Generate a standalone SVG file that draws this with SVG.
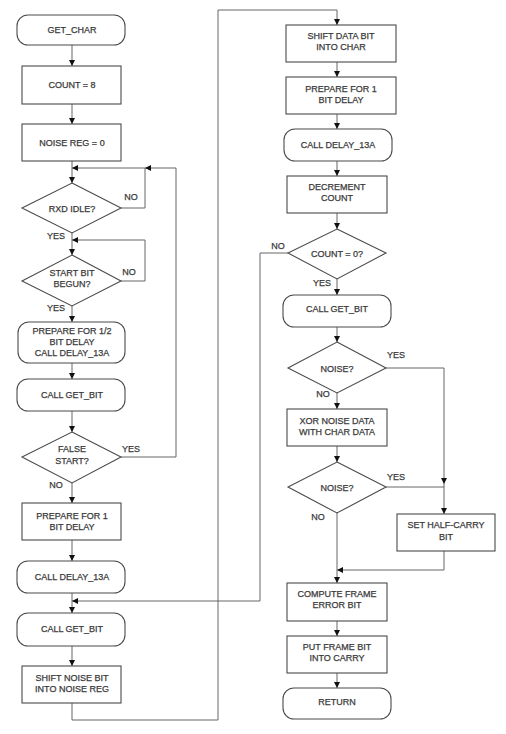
<svg xmlns="http://www.w3.org/2000/svg" width="506" height="734" viewBox="0 0 506 734">
<defs>
<marker id="ah" markerWidth="6" markerHeight="6" refX="6" refY="3" orient="auto" markerUnits="userSpaceOnUse">
<path d="M0,0 L6,3 L0,6 Z" fill="#111"/>
</marker>
<style>
.b{fill:#fff;stroke:#4a4a4a;stroke-width:1.1}
.t{font-family:"Liberation Sans",Arial,sans-serif;font-size:9px;fill:#3a3a3a;stroke:#3a3a3a;stroke-width:0.25;text-anchor:middle}
.l{font-family:"Liberation Sans",Arial,sans-serif;font-size:9px;fill:#3a3a3a;stroke:#3a3a3a;stroke-width:0.25;text-anchor:middle}
.c{fill:none;stroke:#666;stroke-width:1}
.a{marker-end:url(#ah)}
</style>
</defs>
<rect width="506" height="734" fill="#fff"/>
<g id="connectors">
<path class="c a" d="M72,45 V66"/>
<path class="c a" d="M72,104 V124"/>
<path class="c a" d="M72,161 V183"/>
<path class="c a" d="M121,208 H145 V168 H72"/>
<path class="c a" d="M72,233 V255"/>
<path class="c a" d="M121,281 H145 V240 H72"/>
<path class="c a" d="M72,306 V322"/>
<path class="c a" d="M72,363 V379"/>
<path class="c a" d="M72,411 V432"/>
<path class="c a" d="M121,457 H176 V168 H145"/>
<path class="c a" d="M72,483 V503"/>
<path class="c a" d="M72,540 V561"/>
<path class="c a" d="M72,593 V613"/>
<path class="c a" d="M72,646 V666"/>
<path class="c a" d="M72,703 V720 H218 V10 H337 V25"/>
<path class="c a" d="M337,62 V77"/>
<path class="c a" d="M337,114 V129"/>
<path class="c a" d="M337,161 V176"/>
<path class="c a" d="M337,213 V229"/>
<path class="c a" d="M288,253 H260 V601 H72"/>
<path class="c a" d="M337,279 V295"/>
<path class="c a" d="M337,327 V342"/>
<path class="c a" d="M386,368 H444 V484"/>
<path class="c a" d="M337,393 V409"/>
<path class="c a" d="M337,446 V462"/>
<path class="c" d="M386,487 H444"/>
<path class="c a" d="M444,484 V514"/>
<path class="c a" d="M444,551 V570 H337"/>
<path class="c a" d="M337,513 V583"/>
<path class="c a" d="M337,621 V636"/>
<path class="c a" d="M337,673 V688"/>
</g>
<g id="n_get_char"><rect class="b" x="17" y="15" width="108" height="30" rx="11"/><text class="t" x="72" y="33">GET_CHAR</text></g>
<g id="n_count8"><rect class="b" x="22" y="66" width="99" height="38"/><text class="t" x="72" y="88">COUNT = 8</text></g>
<g id="n_noisereg"><rect class="b" x="22" y="124" width="99" height="37"/><text class="t" x="72" y="146">NOISE REG = 0</text></g>
<g id="n_rxd"><polygon class="b" points="72,183 121,208 72,233 22,208"/><text class="t" x="72" y="212">RXD IDLE?</text></g>
<g id="n_start"><polygon class="b" points="72,255 121,281 72,306 22,281"/><text class="t" x="72" y="276">START BIT</text><text class="t" x="72" y="287">BEGUN?</text></g>
<g id="n_prep_half"><rect class="b" x="18" y="322" width="107" height="41" rx="11"/><text class="t" x="72" y="334">PREPARE FOR 1/2</text><text class="t" x="72" y="345">BIT DELAY</text><text class="t" x="72" y="356">CALL DELAY_13A</text></g>
<g id="n_getbit1"><rect class="b" x="17" y="379" width="108" height="32" rx="11"/><text class="t" x="72" y="398">CALL GET_BIT</text></g>
<g id="n_false"><polygon class="b" points="72,432 121,457 72,483 22,457"/><text class="t" x="72" y="452">FALSE</text><text class="t" x="72" y="464">START?</text></g>
<g id="n_prep1a"><rect class="b" x="22" y="503" width="99" height="37"/><text class="t" x="72" y="519">PREPARE FOR 1</text><text class="t" x="72" y="530">BIT DELAY</text></g>
<g id="n_delay1"><rect class="b" x="17" y="561" width="108" height="32" rx="11"/><text class="t" x="72" y="580">CALL DELAY_13A</text></g>
<g id="n_getbit2"><rect class="b" x="17" y="613" width="108" height="33" rx="11"/><text class="t" x="72" y="632">CALL GET_BIT</text></g>
<g id="n_shiftnoise"><rect class="b" x="22" y="666" width="99" height="37"/><text class="t" x="72" y="681">SHIFT NOISE BIT</text><text class="t" x="72" y="692">INTO NOISE REG</text></g>
<g id="n_shiftdata"><rect class="b" x="286" y="25" width="110" height="37"/><text class="t" x="341" y="39">SHIFT DATA BIT</text><text class="t" x="341" y="50">INTO CHAR</text></g>
<g id="n_prep1b"><rect class="b" x="286" y="77" width="110" height="37"/><text class="t" x="341" y="92">PREPARE FOR 1</text><text class="t" x="341" y="103">BIT DELAY</text></g>
<g id="n_delay2"><rect class="b" x="284" y="129" width="108" height="32" rx="11"/><text class="t" x="338" y="148">CALL DELAY_13A</text></g>
<g id="n_decr"><rect class="b" x="287" y="176" width="100" height="37"/><text class="t" x="337" y="190">DECREMENT</text><text class="t" x="337" y="201">COUNT</text></g>
<g id="n_count0"><polygon class="b" points="337,229 386,253 337,279 288,253"/><text class="t" x="337" y="257">COUNT = 0?</text></g>
<g id="n_getbit3"><rect class="b" x="283" y="295" width="108" height="32" rx="11"/><text class="t" x="337" y="312">CALL GET_BIT</text></g>
<g id="n_noise1"><polygon class="b" points="337,342 386,368 337,393 288,368"/><text class="t" x="337" y="372">NOISE?</text></g>
<g id="n_xor"><rect class="b" x="287" y="409" width="100" height="37"/><text class="t" x="337" y="424">XOR NOISE DATA</text><text class="t" x="337" y="435">WITH CHAR DATA</text></g>
<g id="n_noise2"><polygon class="b" points="337,462 386,487 337,513 288,487"/><text class="t" x="337" y="491">NOISE?</text></g>
<g id="n_halfcarry"><rect class="b" x="397" y="514" width="98" height="37"/><text class="t" x="446" y="528">SET HALF-CARRY</text><text class="t" x="446" y="540">BIT</text></g>
<g id="n_compute"><rect class="b" x="287" y="583" width="100" height="38"/><text class="t" x="337" y="597">COMPUTE FRAME</text><text class="t" x="337" y="608">ERROR BIT</text></g>
<g id="n_putframe"><rect class="b" x="287" y="636" width="100" height="37"/><text class="t" x="337" y="650">PUT FRAME BIT</text><text class="t" x="337" y="661">INTO CARRY</text></g>
<g id="n_return"><rect class="b" x="283" y="688" width="108" height="31" rx="11"/><text class="t" x="337" y="705">RETURN</text></g>
<g id="labels">
<text class="l" x="131" y="200">NO</text>
<text class="l" x="56" y="239">YES</text>
<text class="l" x="129" y="275">NO</text>
<text class="l" x="56" y="311">YES</text>
<text class="l" x="131" y="452">YES</text>
<text class="l" x="56" y="488">NO</text>
<text class="l" x="278" y="249">NO</text>
<text class="l" x="322" y="286">YES</text>
<text class="l" x="396" y="358">YES</text>
<text class="l" x="323" y="397">NO</text>
<text class="l" x="396" y="480">YES</text>
<text class="l" x="318" y="520">NO</text>
</g>
</svg>
